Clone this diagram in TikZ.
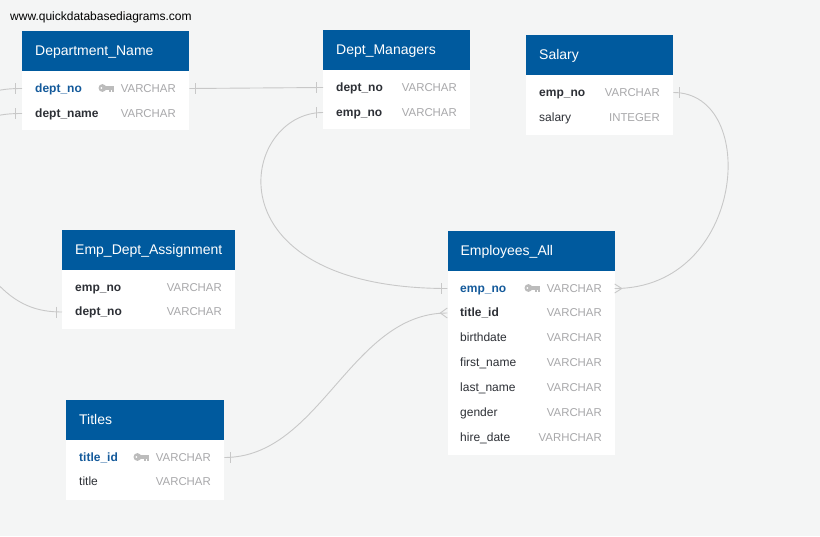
\documentclass[tikz,border=0pt]{standalone}
\usepackage{fontspec}
\setmainfont{Liberation Sans}
\definecolor{bg}{RGB}{244,245,245}
\definecolor{hdr}{RGB}{0,90,158}
\definecolor{namec}{RGB}{45,48,54}
\definecolor{keyc}{RGB}{20,90,155}
\definecolor{typec}{RGB}{168,168,170}
\definecolor{linec}{RGB}{200,200,200}
\definecolor{iconc}{RGB}{188,188,188}
\tikzset{
 hdrbox/.style={fill=hdr, draw=none, inner sep=0pt, anchor=north west},
 bodybox/.style={fill=white, draw=none, inner sep=0pt, anchor=north west},
 hdrtext/.style={text=white, font=\fontsize{14}{16}\selectfont, inner sep=0pt, text height=10pt, text depth=1pt, anchor=west, xshift=13pt},
 rowbase/.style={inner sep=0pt, text height=9.3pt, text depth=1.5pt, yshift=-0.5pt},
 fname/.style={rowbase, anchor=west, text=namec, font=\fontsize{12}{14}\selectfont\bfseries},
 fplain/.style={rowbase, anchor=west, text=namec, font=\fontsize{12}{14}\selectfont},
 fkey/.style={rowbase, anchor=west, text=keyc, font=\fontsize{12}{14}\selectfont\bfseries},
 ftype/.style={rowbase, anchor=east, text=typec, font=\fontsize{11.4}{14}\selectfont},
 conn/.style={draw=linec, line width=0.9pt},
 tickmark/.style={draw=linec, line width=0.9pt},
}
\newcommand\dbkeyicon[1]{%
 \begin{scope}[shift={(#1.west)}]
  \fill[iconc] (-18.3,-0.5) circle (3.9pt);
  \fill[white] (-19.4,-0.5) circle (1.0pt);
  \fill[iconc] (-15.5,-2.3) rectangle (-7,1.0);
  \fill[iconc] (-11.5,1.0) rectangle (-9.6,3.4);
  \fill[iconc] (-8.9,1.0) rectangle (-7,3.9);
 \end{scope}}
\begin{document}
\begin{tikzpicture}[x=1pt,y=-1pt]
\fill[bg] (0,0) rectangle (820,536);
\useasboundingbox (0,0) rectangle (820,536);
\clip (0,0) rectangle (820,536);

\node[anchor=base west, inner sep=0pt, font=\fontsize{12}{14}\selectfont] (wm) at (10,20) {www.quickdatabasediagrams.com};

% Department_Name
\node[hdrbox, minimum width=167pt, minimum height=40pt] (dnH) at (22,31) {};
\node[hdrtext] (dnT) at (dnH.west) {Department\_Name};
\node[bodybox, minimum width=167pt, minimum height=59pt] (dnB) at (22,71) {};
\node[fkey] (dn1) at (35,88) {dept\_no};
\node[ftype] (dn1t) at (176,88) {VARCHAR};
\node[fname] (dn2) at (35,113) {dept\_name};
\node[ftype] (dn2t) at (176,113) {VARCHAR};
\dbkeyicon{dn1t}

% Dept_Managers
\node[hdrbox, minimum width=147pt, minimum height=40pt] (dmH) at (323,30) {};
\node[hdrtext] (dmT) at (dmH.west) {Dept\_Managers};
\node[bodybox, minimum width=147pt, minimum height=59pt] (dmB) at (323,70) {};
\node[fname] (dm1) at (336,87) {dept\_no};
\node[ftype] (dm1t) at (457,87) {VARCHAR};
\node[fname] (dm2) at (336,112) {emp\_no};
\node[ftype] (dm2t) at (457,112) {VARCHAR};

% Salary
\node[hdrbox, minimum width=147pt, minimum height=40pt] (slH) at (526,34.5) {};
\node[hdrtext] (slT) at (slH.west) {Salary};
\node[bodybox, minimum width=147pt, minimum height=60pt] (slB) at (526,74.5) {};
\node[fname] (sl1) at (539,92) {emp\_no};
\node[ftype] (sl1t) at (660,92) {VARCHAR};
\node[fplain] (sl2) at (539,117) {salary};
\node[ftype] (sl2t) at (660,117) {INTEGER};

% Emp_Dept_Assignment
\node[hdrbox, minimum width=173pt, minimum height=40pt] (edH) at (62,230) {};
\node[hdrtext] (edT) at (edH.west) {Emp\_Dept\_Assignment};
\node[bodybox, minimum width=173pt, minimum height=59pt] (edB) at (62,270) {};
\node[fname] (ed1) at (75,287) {emp\_no};
\node[ftype] (ed1t) at (222,287) {VARCHAR};
\node[fname] (ed2) at (75,311.5) {dept\_no};
\node[ftype] (ed2t) at (222,311.5) {VARCHAR};

% Employees_All
\node[hdrbox, minimum width=167pt, minimum height=40pt] (eaH) at (447.3,230.7) {};
\node[hdrtext] (eaT) at (eaH.west) {Employees\_All};
\node[bodybox, minimum width=167pt, minimum height=184.3pt] (eaB) at (447.3,270.7) {};
\node[fkey] (ea1) at (460,288) {emp\_no};
\node[ftype] (ea1t) at (602,288) {VARCHAR};
\node[fname] (ea2) at (460,312.5) {title\_id};
\node[ftype] (ea2t) at (602,312.5) {VARCHAR};
\node[fplain] (ea3) at (460,337.5) {birthdate};
\node[ftype] (ea3t) at (602,337.5) {VARCHAR};
\node[fplain] (ea4) at (460,362.5) {first\_name};
\node[ftype] (ea4t) at (602,362.5) {VARCHAR};
\node[fplain] (ea5) at (460,387.5) {last\_name};
\node[ftype] (ea5t) at (602,387.5) {VARCHAR};
\node[fplain] (ea6) at (460,412.5) {gender};
\node[ftype] (ea6t) at (602,412.5) {VARCHAR};
\node[fplain] (ea7) at (460,437.5) {hire\_date};
\node[ftype] (ea7t) at (602,437.5) {VARHCHAR};
\dbkeyicon{ea1t}

% Titles
\node[hdrbox, minimum width=158pt, minimum height=40pt] (tiH) at (66,400) {};
\node[hdrtext] (tiT) at (tiH.west) {Titles};
\node[bodybox, minimum width=158pt, minimum height=59.5pt] (tiB) at (66,440) {};
\node[fkey] (ti1) at (79,457) {title\_id};
\node[ftype] (ti1t) at (211,457) {VARCHAR};
\node[fplain] (ti2) at (79,481.5) {title};
\node[ftype] (ti2t) at (211,481.5) {VARCHAR};
\dbkeyicon{ti1t}

% connector end points
\coordinate (pDn1L) at (dnB.west |- dn1.west);
\coordinate (pDn2L) at (dnB.west |- dn2.west);
\coordinate (pDn1R) at (dnB.east |- dn1.west);
\coordinate (pDm1L) at (dmB.west |- dm1.west);
\coordinate (pDm2L) at (dmB.west |- dm2.west);
\coordinate (pSl1R) at (slB.east |- sl1.west);
\coordinate (pEd2L) at (edB.west |- ed2.west);
\coordinate (pEa1L) at (eaB.west |- ea1.west);
\coordinate (pEa1R) at (eaB.east |- ea1.west);
\coordinate (pEa2L) at (eaB.west |- ea2.west);
\coordinate (pTi1R) at (tiB.east |- ti1.west);
\coordinate (fr1) at (-12,94);
\coordinate (fr2) at (-12,119);
\coordinate (fr3) at (-6,280);

% connectors
\draw[conn] (fr1) .. controls +(10,-5) and +(-10,0) .. (pDn1L);
\draw[conn] (fr2) .. controls +(10,-5) and +(-10,0) .. (pDn2L);
\draw[conn] (fr3) .. controls +(22,25) and +(-25,0) .. (pEd2L);
\draw[conn] (pDn1R) -- (pDm1L);
\draw[conn] (pDm2L) .. controls +(-83,0) and +(-242,0) .. (pEa1L);
\draw[conn] (pSl1R) .. controls +(87,0) and +(131,0) .. (pEa1R);
\draw[conn] (pTi1R) .. controls +(96,0) and +(-97,0) .. (pEa2L);

% ticks (one)
\draw[tickmark] ([xshift=-7pt,yshift=5.5pt]pDn1L) -- ([xshift=-7pt,yshift=-5.5pt]pDn1L);
\draw[tickmark] ([xshift=-7pt,yshift=5.5pt]pDn2L) -- ([xshift=-7pt,yshift=-5.5pt]pDn2L);
\draw[tickmark] ([xshift=-5.5pt,yshift=5.5pt]pEd2L) -- ([xshift=-5.5pt,yshift=-5.5pt]pEd2L);
\draw[tickmark] ([xshift=6pt,yshift=5.5pt]pDn1R) -- ([xshift=6pt,yshift=-5.5pt]pDn1R);
\draw[tickmark] ([xshift=-6.5pt,yshift=5.5pt]pDm1L) -- ([xshift=-6.5pt,yshift=-5.5pt]pDm1L);
\draw[tickmark] ([xshift=-6.5pt,yshift=5.5pt]pDm2L) -- ([xshift=-6.5pt,yshift=-5.5pt]pDm2L);
\draw[tickmark] ([xshift=-6pt,yshift=5.5pt]pEa1L) -- ([xshift=-6pt,yshift=-5.5pt]pEa1L);
\draw[tickmark] ([xshift=6.5pt,yshift=5.5pt]pSl1R) -- ([xshift=6.5pt,yshift=-5.5pt]pSl1R);
\draw[tickmark] ([xshift=6pt,yshift=5.5pt]pTi1R) -- ([xshift=6pt,yshift=-5.5pt]pTi1R);

% crow's feet (many)
\draw[conn] ([yshift=4.5pt]pEa1R) -- ([xshift=7pt]pEa1R) -- ([yshift=-4.5pt]pEa1R);
\draw[conn] ([yshift=5pt]pEa2L) -- ([xshift=-7pt]pEa2L) -- ([yshift=-5pt]pEa2L);
\end{tikzpicture}
\end{document}
